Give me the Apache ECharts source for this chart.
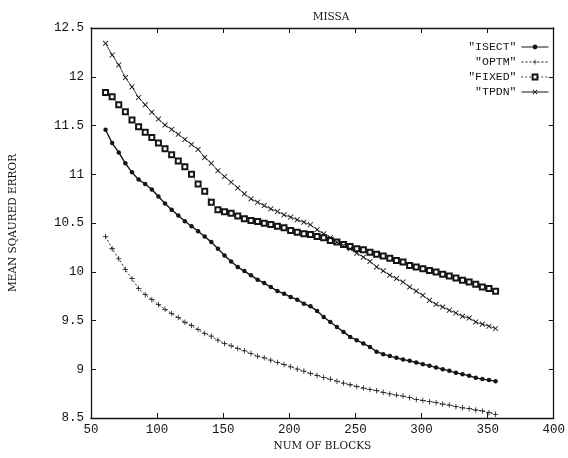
<!DOCTYPE html>
<html>
<head>
<meta charset="utf-8">
<script src="https://cdn.jsdelivr.net/npm/echarts@6/dist/echarts.min.js"></script>
<style>
  html, body { margin: 0; padding: 0; background: #fff; }
  #chart { width: 568px; height: 458px; }
</style>
</head>
<body>
<div id="chart"></div>
<script>
const blocks = [61, 66, 71, 76, 81, 86, 91, 96, 101, 106, 111, 116, 121, 126, 131, 136, 141, 146, 151, 156,
  161, 166, 171, 176, 181, 186, 191, 196, 201, 206, 211, 216, 221, 226, 231, 236, 241, 246, 251, 256,
  261, 266, 271, 276, 281, 286, 291, 296, 301, 306, 311, 316, 321, 326, 331, 336, 341, 346, 351, 356];

const isect = [11.457, 11.32, 11.224, 11.112, 11.02, 10.945, 10.90, 10.843, 10.771, 10.70,
  10.635, 10.577, 10.518, 10.467, 10.416, 10.362, 10.304, 10.236, 10.167, 10.106,
  10.048, 10.007, 9.963, 9.919, 9.884, 9.843, 9.802, 9.775, 9.741, 9.714,
  9.673, 9.645, 9.598, 9.536, 9.485, 9.434, 9.383, 9.332, 9.298, 9.264,
  9.229, 9.18, 9.155, 9.135, 9.117, 9.10, 9.086, 9.069, 9.052, 9.035,
  9.019, 9.001, 8.984, 8.963, 8.95, 8.933, 8.912, 8.899, 8.889, 8.878];

const optm = [10.362, 10.236, 10.133, 10.024, 9.929, 9.827, 9.765, 9.714, 9.663, 9.615,
  9.571, 9.53, 9.482, 9.448, 9.407, 9.366, 9.339, 9.298, 9.264, 9.24,
  9.213, 9.189, 9.162, 9.134, 9.117, 9.093, 9.07, 9.049, 9.025, 9.001,
  8.981, 8.957, 8.937, 8.916, 8.899, 8.878, 8.858, 8.841, 8.824, 8.807,
  8.793, 8.78, 8.764, 8.747, 8.735, 8.725, 8.708, 8.691, 8.68, 8.667,
  8.657, 8.643, 8.633, 8.616, 8.605, 8.595, 8.582, 8.572, 8.554, 8.538];

const fixed = [11.838, 11.794, 11.712, 11.641, 11.556, 11.487, 11.43, 11.378, 11.32, 11.262,
  11.20, 11.136, 11.078, 11.00, 10.90, 10.825, 10.713, 10.635, 10.615, 10.60,
  10.572, 10.543, 10.526, 10.515, 10.498, 10.485, 10.467, 10.451, 10.423, 10.406,
  10.389, 10.382, 10.362, 10.348, 10.321, 10.304, 10.28, 10.26, 10.236, 10.226,
  10.201, 10.18, 10.162, 10.138, 10.116, 10.099, 10.065, 10.048, 10.031, 10.014,
  9.997, 9.974, 9.956, 9.936, 9.912, 9.895, 9.872, 9.844, 9.827, 9.799];

const tpdn = [12.343, 12.224, 12.121, 11.992, 11.896, 11.787, 11.712, 11.637, 11.566, 11.504,
  11.46, 11.409, 11.357, 11.306, 11.255, 11.173, 11.112, 11.037, 10.976, 10.918,
  10.86, 10.799, 10.748, 10.713, 10.679, 10.645, 10.618, 10.584, 10.56, 10.533,
  10.508, 10.482, 10.431, 10.389, 10.349, 10.304, 10.27, 10.236, 10.191, 10.15,
  10.106, 10.05, 10.01, 9.965, 9.93, 9.895, 9.843, 9.802, 9.758, 9.707,
  9.666, 9.639, 9.605, 9.577, 9.543, 9.525, 9.485, 9.462, 9.441, 9.418];

const seriesNames = ['ISECT', 'OPTM', 'FIXED', 'TPDN'];
const titleText = 'MISSA';
const xName = 'NUM OF BLOCKS';
const yName = 'MEAN SQAURED ERROR';

function pairs(vals) { return blocks.map((b, i) => [b, vals[i]]); }

const INK = '#151515';
const PLUS = 'path://M4.3,0H5.7V4.3H10V5.7H5.7V10H4.3V5.7H0V4.3H4.3Z';
const CROSS = 'path://M0,1.1L1.1,0L5,3.9L8.9,0L10,1.1L6.1,5L10,8.9L8.9,10L5,6.1L1.1,10L0,8.9L3.9,5Z';

const tickFont = { fontFamily: 'Liberation Mono', fontSize: 12.5, color: INK };

const xBase = {
  type: 'value', min: 50, max: 400, interval: 50,
  axisLine: { show: true, lineStyle: { color: INK, width: 1.3 } },
  axisTick: { show: true, inside: true, length: 5, lineStyle: { color: INK, width: 1 } },
  splitLine: { show: false }
};
const yBase = {
  type: 'value', min: 8.5, max: 12.5, interval: 0.5,
  axisLine: { show: true, lineStyle: { color: INK, width: 1.3 } },
  axisTick: { show: true, inside: true, length: 5, lineStyle: { color: INK, width: 1 } },
  splitLine: { show: false }
};

const chart = echarts.init(document.getElementById('chart'), null, { renderer: 'canvas' });
chart.setOption({
  animation: false,
  backgroundColor: '#fff',
  title: {
    text: titleText, left: 326, top: 7, textAlign: 'center',
    textStyle: { fontFamily: 'DejaVu Serif', fontSize: 10.5, fontWeight: 'normal', color: INK }
  },
  grid: { left: 90, right: 10, top: 28, bottom: 40 },
  legend: {
    orient: 'vertical', right: 19, top: 41, align: 'right',
    padding: 0, itemWidth: 27, itemHeight: 6, itemGap: 3,
    formatter: n => '"' + n + '"',
    lineStyle: { width: 1 },
    textStyle: { fontFamily: 'Liberation Mono', fontSize: 11.5, color: INK, padding: [0, 0, 0, 0] },
    data: seriesNames
  },
  xAxis: [
    Object.assign({}, xBase, {
      position: 'bottom',
      name: xName, nameLocation: 'middle', nameGap: 17,
      nameTextStyle: { fontFamily: 'DejaVu Serif', fontSize: 10.5, color: INK },
      axisLabel: Object.assign({ margin: 5 }, tickFont)
    }),
    Object.assign({}, xBase, { position: 'top', axisLabel: { show: false } })
  ],
  yAxis: [
    Object.assign({}, yBase, {
      position: 'left',
      name: yName, nameLocation: 'middle', nameGap: 72, nameRotate: 90,
      nameTextStyle: { fontFamily: 'DejaVu Serif', fontSize: 10.5, color: INK },
      axisLabel: Object.assign({ margin: 7 }, tickFont)
    }),
    Object.assign({}, yBase, { position: 'right', axisLabel: { show: false } })
  ],
  series: [
    {
      name: seriesNames[0], type: 'line', data: pairs(isect),
      symbol: 'circle', symbolSize: 4.5,
      lineStyle: { color: INK, width: 1.4, type: 'solid' },
      itemStyle: { color: INK }
    },
    {
      name: seriesNames[1], type: 'line', data: pairs(optm),
      symbol: PLUS, symbolSize: 5.5,
      lineStyle: { color: INK, width: 0.9, type: [2, 2] },
      itemStyle: { color: INK }
    },
    {
      name: seriesNames[2], type: 'line', data: pairs(fixed),
      symbol: 'emptyRect', symbolSize: 5,
      lineStyle: { color: INK, width: 0.8, type: [1.5, 2.5] },
      itemStyle: { color: INK, borderWidth: 0.7 }
    },
    {
      name: seriesNames[3], type: 'line', data: pairs(tpdn),
      symbol: CROSS, symbolSize: 5.5,
      lineStyle: { color: INK, width: 0.8, type: 'solid' },
      itemStyle: { color: INK }
    }
  ]
});
</script>
</body>
</html>
